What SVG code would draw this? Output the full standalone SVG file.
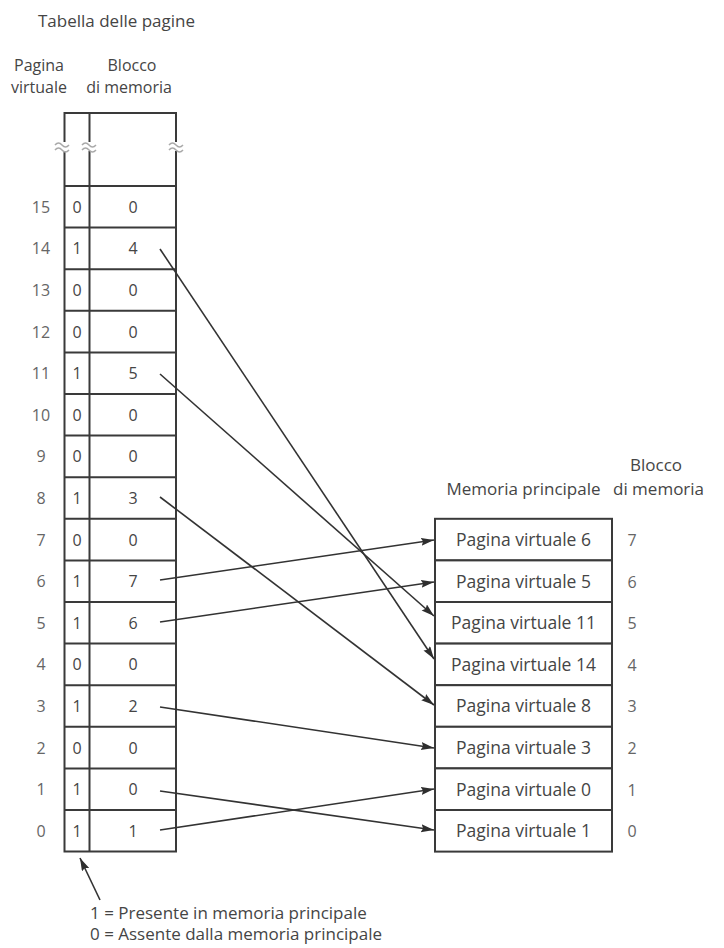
<svg xmlns="http://www.w3.org/2000/svg" width="724" height="948" viewBox="0 0 724 948">
<style>
text{font-family:"Open Sans","Liberation Sans",sans-serif;fill:#454545}
.h{font-size:17px}
.hs{font-size:16px;text-anchor:middle}
.d{font-size:16px;text-anchor:middle}
.m{font-size:17.5px;text-anchor:middle}
.g{font-size:16px;text-anchor:middle;fill:#666}
.tl{stroke:#3a3a3a;stroke-width:2;fill:none}
.box{stroke:#3a3a3a;stroke-width:2;fill:#fff}
.sq{stroke:#aaa;stroke-width:1.5;fill:none}
.c{stroke:#333;stroke-width:1.6;fill:none;marker-end:url(#ah)}
.lg{font-size:17px}
</style>
<defs>
<marker id="ah" markerUnits="userSpaceOnUse" markerWidth="14" markerHeight="10" refX="13" refY="4" orient="auto">
<path d="M0,0 L13,4 L0,8 L2,4 z" fill="#2e2e2e"/>
</marker>
</defs>
<rect width="724" height="948" fill="#fff"/>

<g id="header">
<text class="h" x="38" y="27">Tabella delle pagine</text>
<text class="hs" x="39" y="71">Pagina</text>
<text class="hs" x="39" y="93">virtuale</text>
<text class="hs" x="132" y="71">Blocco</text>
<text class="hs" x="129" y="93">di memoria</text>
</g>

<g id="page-table">
<path class="tl" d="M64.5,142 V113 H176 V142 M89.5,113 V142 M64.5,151 V851.6 H176 V151 M89.5,151 V851.6"/>
<path class="sq" d="M55,145 q3.5,-4 7,0 t7,0 M55,150 q3.5,-4 7,0 t7,0 M82,145 q3.5,-4 7,0 t7,0 M82,150 q3.5,-4 7,0 t7,0 M169,145 q3.5,-4 7,0 t7,0 M169,150 q3.5,-4 7,0 t7,0"/>
<path class="tl" d="M64.5,186 H176 M64.5,227.6 H176 M64.5,269.2 H176 M64.5,310.8 H176 M64.5,352.4 H176 M64.5,394 H176 M64.5,435.6 H176 M64.5,477.2 H176 M64.5,518.8 H176 M64.5,560.4 H176 M64.5,602 H176 M64.5,643.6 H176 M64.5,685.2 H176 M64.5,726.8 H176 M64.5,768.4 H176 M64.5,810 H176"/>
<g id="row15"><text class="g" x="41" y="213">15</text><text class="d" x="77" y="213">0</text><text class="d" x="133" y="213">0</text></g>
<g id="row14"><text class="g" x="41" y="254.4">14</text><text class="d" x="77" y="254.4">1</text><text class="d" x="133" y="254.4">4</text></g>
<g id="row13"><text class="g" x="41" y="296">13</text><text class="d" x="77" y="296">0</text><text class="d" x="133" y="296">0</text></g>
<g id="row12"><text class="g" x="41" y="337.6">12</text><text class="d" x="77" y="337.6">0</text><text class="d" x="133" y="337.6">0</text></g>
<g id="row11"><text class="g" x="41" y="379.2">11</text><text class="d" x="77" y="379.2">1</text><text class="d" x="133" y="379.2">5</text></g>
<g id="row10"><text class="g" x="41" y="420.8">10</text><text class="d" x="77" y="420.8">0</text><text class="d" x="133" y="420.8">0</text></g>
<g id="row9"><text class="g" x="41" y="462.4">9</text><text class="d" x="77" y="462.4">0</text><text class="d" x="133" y="462.4">0</text></g>
<g id="row8"><text class="g" x="41" y="504">8</text><text class="d" x="77" y="504">1</text><text class="d" x="133" y="504">3</text></g>
<g id="row7"><text class="g" x="41" y="545.6">7</text><text class="d" x="77" y="545.6">0</text><text class="d" x="133" y="545.6">0</text></g>
<g id="row6"><text class="g" x="41" y="587.2">6</text><text class="d" x="77" y="587.2">1</text><text class="d" x="133" y="587.2">7</text></g>
<g id="row5"><text class="g" x="41" y="628.8">5</text><text class="d" x="77" y="628.8">1</text><text class="d" x="133" y="628.8">6</text></g>
<g id="row4"><text class="g" x="41" y="670.4">4</text><text class="d" x="77" y="670.4">0</text><text class="d" x="133" y="670.4">0</text></g>
<g id="row3"><text class="g" x="41" y="712">3</text><text class="d" x="77" y="712">1</text><text class="d" x="133" y="712">2</text></g>
<g id="row2"><text class="g" x="41" y="753.6">2</text><text class="d" x="77" y="753.6">0</text><text class="d" x="133" y="753.6">0</text></g>
<g id="row1"><text class="g" x="41" y="795.2">1</text><text class="d" x="77" y="795.2">1</text><text class="d" x="133" y="795.2">0</text></g>
<g id="row0"><text class="g" x="41" y="836.8">0</text><text class="d" x="77" y="836.8">1</text><text class="d" x="133" y="836.8">1</text></g>
</g>

<g id="memory-labels">
<text class="h" x="523.5" y="495" text-anchor="middle">Memoria principale</text>
<text class="h" x="630" y="471">Blocco</text>
<text class="h" x="613" y="495">di memoria</text>
</g>

<g id="memory">
<g id="mem7"><rect class="box" x="435" y="518.8" width="177" height="41.6"/><text class="m" x="523.5" y="546">Pagina virtuale 6</text><text class="g" x="632" y="546">7</text></g>
<g id="mem6"><rect class="box" x="435" y="560.4" width="177" height="41.6"/><text class="m" x="523.5" y="587.6">Pagina virtuale 5</text><text class="g" x="632" y="587.6">6</text></g>
<g id="mem5"><rect class="box" x="435" y="602" width="177" height="41.6"/><text class="m" x="523.5" y="629.2">Pagina virtuale 11</text><text class="g" x="632" y="629.2">5</text></g>
<g id="mem4"><rect class="box" x="435" y="643.6" width="177" height="41.6"/><text class="m" x="523.5" y="670.8">Pagina virtuale 14</text><text class="g" x="632" y="670.8">4</text></g>
<g id="mem3"><rect class="box" x="435" y="685.2" width="177" height="41.6"/><text class="m" x="523.5" y="712.4">Pagina virtuale 8</text><text class="g" x="632" y="712.4">3</text></g>
<g id="mem2"><rect class="box" x="435" y="726.8" width="177" height="41.6"/><text class="m" x="523.5" y="754">Pagina virtuale 3</text><text class="g" x="632" y="754">2</text></g>
<g id="mem1"><rect class="box" x="435" y="768.4" width="177" height="41.6"/><text class="m" x="523.5" y="795.6">Pagina virtuale 0</text><text class="g" x="632" y="795.6">1</text></g>
<g id="mem0"><rect class="box" x="435" y="810" width="177" height="41.6"/><text class="m" x="523.5" y="837.2">Pagina virtuale 1</text><text class="g" x="632" y="837.2">0</text></g>
</g>

<g id="connectors">
<path class="c" d="M160,249 L434,659"/>
<path class="c" d="M160,374 L434,616"/>
<path class="c" d="M160,497 L434,705"/>
<path class="c" d="M160,580 L434,540"/>
<path class="c" d="M160,622 L434,582"/>
<path class="c" d="M160,707 L434,748"/>
<path class="c" d="M160,791 L434,830"/>
<path class="c" d="M160,830 L434,789"/>
<path class="c" d="M100,900 L80,858"/>
</g>

<g id="legend">
<text class="lg" x="90" y="919">1 = Presente in memoria principale</text>
<text class="lg" x="90" y="940">0 = Assente dalla memoria principale</text>
</g>
</svg>
